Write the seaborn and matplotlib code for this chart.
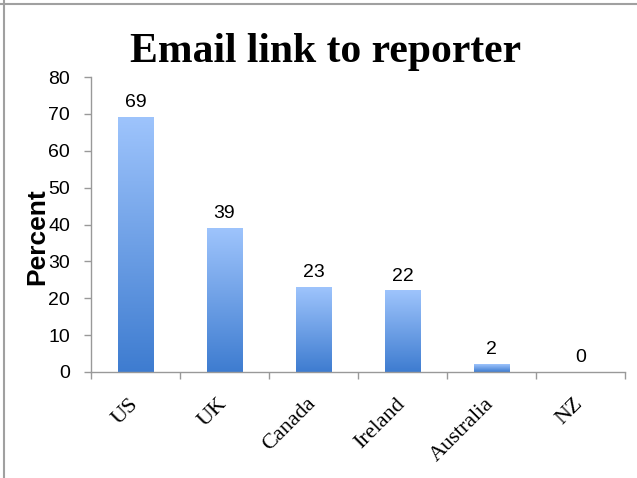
import numpy as np
import pandas as pd
import matplotlib
matplotlib.use("Agg")
import matplotlib.pyplot as plt
from matplotlib.colors import LinearSegmentedColormap
from matplotlib.lines import Line2D
import seaborn as sns

countries = ["US", "UK", "Canada", "Ireland", "Australia", "NZ"]
percent = [69, 39, 23, 22, 2, 0]
y_ticks = [0, 10, 20, 30, 40, 50, 60, 70, 80]

sns.set_theme(style="white")
plt.rcParams["font.family"] = ["Liberation Sans", "DejaVu Sans"]
plt.rcParams["text.color"] = "black"
plt.rcParams["xtick.color"] = "black"
plt.rcParams["ytick.color"] = "black"
plt.rcParams["axes.labelcolor"] = "black"

df = pd.DataFrame({"country": countries, "percent": percent})

fig = plt.figure(figsize=(6.37, 4.78), dpi=100)
ax = fig.add_axes([91 / 637, 1 - 372 / 478, 534 / 637, 295 / 478])

sns.barplot(data=df, x="country", y="percent", ax=ax, width=0.40,
            color="#6a9be0", saturation=1, edgecolor="none")

# vertical gradient fill for every bar
grad_cmap = LinearSegmentedColormap.from_list("bar_grad", ["#3e7cd0", "#9ec4fc"])
grad = np.linspace(0, 1, 256).reshape(-1, 1)
for patch in ax.patches:
    x0 = patch.get_x()
    w = patch.get_width()
    h = patch.get_height()
    patch.set_visible(False)
    if h <= 0:
        continue
    ax.imshow(grad, cmap=grad_cmap, origin="lower", aspect="auto",
              extent=[x0, x0 + w, 0, h], zorder=patch.get_zorder(),
              interpolation="bilinear")

# value labels above bars
for i, v in enumerate(percent):
    ax.annotate(f"{v}", xy=(i, v), xytext=(0, 4.5), textcoords="offset points",
                ha="center", va="bottom", fontsize=14, color="black")

ax.set_xlim(-0.5, len(countries) - 0.5)
ax.set_ylim(0, 80)
ax.set_yticks(y_ticks)
ax.set_yticklabels([str(t) for t in y_ticks], fontsize=14)

# category labels centred, tick marks on category boundaries
ax.set_xticks(range(len(countries)))
ax.set_xticklabels(countries, rotation=45, ha="right", va="center",
                   rotation_mode="anchor", fontsize=16,
                   family=["Liberation Serif", "DejaVu Serif"])
ax.set_xticks(np.arange(-0.5, len(countries), 1.0), minor=True)
ax.tick_params(axis="x", which="major", length=0, pad=21)
ax.tick_params(axis="x", which="minor", length=5, width=1, color="#999999",
               direction="out", bottom=True)
ax.tick_params(axis="y", length=5, width=1, color="#999999", direction="out",
               left=True, pad=10)

ax.set_xlabel("")
ax.set_ylabel("")
fig.text(37 / 637, 1 - 237 / 478, "Percent", rotation=90, ha="center",
         va="center", fontsize=19, fontweight="bold")

for side in ["top", "right"]:
    ax.spines[side].set_visible(False)
for side in ["left", "bottom"]:
    ax.spines[side].set_color("#999999")
    ax.spines[side].set_linewidth(1)

fig.text(326 / 637, 1 - 62 / 478, "Email link to reporter", ha="center",
         va="baseline", fontsize=30, fontweight="bold",
         family=["Liberation Serif", "DejaVu Serif"])

# slide frame lines along top and left edges
fig.add_artist(Line2D([0, 1], [1 - 3.5 / 478] * 2, transform=fig.transFigure,
                      color="#a0a0a0", linewidth=1.5))
fig.add_artist(Line2D([3.5 / 637] * 2, [0, 1], transform=fig.transFigure,
                      color="#a0a0a0", linewidth=1.5))

fig.savefig("out.png", dpi=100)
